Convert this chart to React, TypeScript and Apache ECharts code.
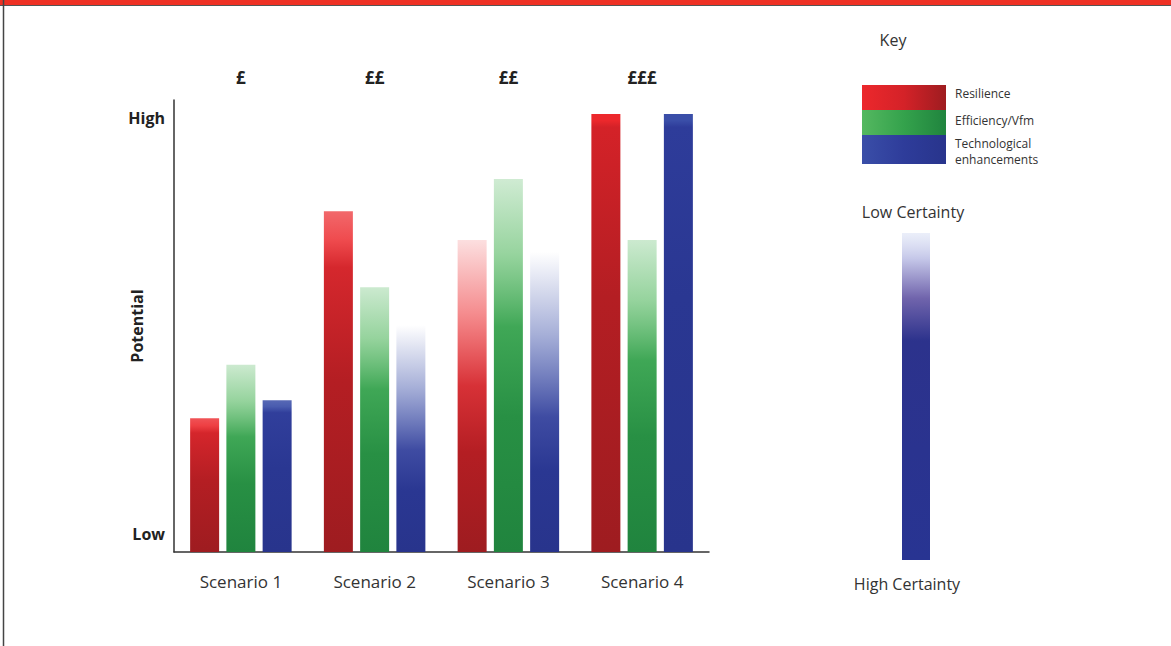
import React, { useEffect, useRef } from "react";
import * as echarts from "echarts";

const categories = ["Scenario 1", "Scenario 2", "Scenario 3", "Scenario 4"];
const costLabels = ["£", "££", "££", "£££"];
const resilience = [29.6, 75.4, 69.0, 96.9];
const efficiency = [41.4, 58.6, 82.5, 69.0];
const technological = [33.6, 50.2, 66.4, 96.9];
// certainty of each estimate (1 = high certainty, 0 = low certainty)
const resilienceCertainty = [0.8, 0.7, 0.15, 1.0];
const efficiencyCertainty = [0.3, 0.3, 0.28, 0.3];
const technologicalCertainty = [0.85, 0.0, 0.0, 1.0];
const yTicks: Record<number, string> = { 4: "Low", 96: "High" };
const keyItems = ["Resilience", "Efficiency/Vfm", "Technological", "enhancements"];

const FONT = "'Open Sans', 'Noto Sans', sans-serif";

type Pal = { light: number[]; mid: number[]; dark: number[] };
const palettes: Pal[] = [
  { light: [236, 40, 44], mid: [212, 34, 40], dark: [158, 28, 32] },
  { light: [84, 184, 96], mid: [52, 162, 76], dark: [32, 132, 62] },
  { light: [58, 78, 168], mid: [46, 60, 154], dark: [40, 52, 140] },
];

const rgba = (c: number[], a: number) => `rgba(${c[0]},${c[1]},${c[2]},${a})`;
const mix = (a: number[], b: number[], t: number) => a.map((v, i) => Math.round(v + (b[i] - v) * t));

function barColor(p: Pal, c: number) {
  const ramp = Math.max(0.03, (1 - c) * 0.55);
  return new echarts.graphic.LinearGradient(0, 0, 0, 1, [
    { offset: 0, color: rgba(p.light, c) },
    { offset: ramp * 0.5, color: rgba(p.light, c + (1 - c) * 0.45) },
    { offset: ramp, color: rgba(p.mid, 0.92 + 0.08 * c) },
    { offset: ramp + (1 - ramp) * 0.4, color: rgba(mix(p.mid, p.dark, 0.6), 1) },
    { offset: 1, color: rgba(p.dark, 1) },
  ]);
}

function makeSeries(name: string, values: number[], cert: number[], p: Pal) {
  return {
    name,
    type: "bar",
    barWidth: 29,
    barGap: "25%",
    data: values.map((v, i) => ({
      value: v,
      itemStyle: { color: barColor(p, cert[i]) },
    })),
  };
}

export default function App() {
  const ref = useRef<HTMLDivElement>(null);
  useEffect(() => {
    document.body.style.margin = "0";
    const chart = echarts.init(ref.current!, null, { renderer: "svg" });
    const swatchY = [85, 110, 135];
    const swatchH = [25, 25, 29];
    const swatchGrad = (p: Pal) =>
      new echarts.graphic.LinearGradient(0, 0, 1, 0, [
        { offset: 0, color: rgba(p.light, 1) },
        { offset: 0.5, color: rgba(p.mid, 1) },
        { offset: 1, color: rgba(p.dark, 1) },
      ]);
    const keyText = (text: string, y: number) => ({
      type: "text",
      style: { text, x: 955, y, fill: "#333", fontSize: 12, fontFamily: FONT, textVerticalAlign: "middle" },
    });
    chart.setOption({
      animation: false,
      backgroundColor: "#ffffff",
      textStyle: { fontFamily: FONT },
      grid: { left: 174, right: 462, top: 100, bottom: 94 },
      xAxis: [
        {
          type: "category",
          data: categories,
          axisLine: { lineStyle: { color: "#333", width: 1.5 } },
          axisTick: { show: false },
          axisLabel: { color: "#333", fontSize: 17, margin: 21, fontFamily: FONT },
        },
        {
          type: "category",
          position: "top",
          data: costLabels,
          axisLine: { show: false },
          axisTick: { show: false },
          axisLabel: { color: "#222", fontSize: 17, fontWeight: "bold", margin: 14, fontFamily: FONT },
        },
      ],
      yAxis: {
        type: "value",
        min: 0,
        max: 100,
        interval: 4,
        name: "Potential",
        nameLocation: "middle",
        nameRotate: 90,
        nameGap: 29,
        nameMoveOverlap: false,
        nameTextStyle: { color: "#222", fontSize: 16, fontWeight: "bold", fontFamily: FONT },
        axisLine: { show: true, lineStyle: { color: "#333", width: 1.5 } },
        axisTick: { show: false },
        splitLine: { show: false },
        axisLabel: {
          color: "#222",
          fontSize: 16,
          fontWeight: "bold",
          margin: 9,
          fontFamily: FONT,
          formatter: (v: number) => yTicks[v] ?? "",
        },
      },
      series: [
        makeSeries("Resilience", resilience, resilienceCertainty, palettes[0]),
        makeSeries("Efficiency/Vfm", efficiency, efficiencyCertainty, palettes[1]),
        makeSeries("Technological enhancements", technological, technologicalCertainty, palettes[2]),
      ],
      graphic: [
        { type: "rect", shape: { x: 0, y: 0, width: 1171, height: 5 }, style: { fill: "#ee3124" } },
        { type: "line", shape: { x1: 0, y1: 5.5, x2: 1171, y2: 5.5 }, style: { stroke: "#555", lineWidth: 1 } },
        { type: "line", shape: { x1: 3.5, y1: 0, x2: 3.5, y2: 646 }, style: { stroke: "#444", lineWidth: 1.5 } },
        {
          type: "text",
          style: { text: "Key", x: 893, y: 40, fill: "#333", fontSize: 16, fontFamily: FONT, textAlign: "center", textVerticalAlign: "middle" },
        },
        ...palettes.map((p, i) => ({
          type: "rect",
          shape: { x: 862, y: swatchY[i], width: 84, height: swatchH[i] },
          style: { fill: swatchGrad(p) },
        })),
        keyText(keyItems[0], 93),
        keyText(keyItems[1], 120),
        keyText(keyItems[2], 143),
        keyText(keyItems[3], 159),
        {
          type: "text",
          style: { text: "Low Certainty", x: 913, y: 212, fill: "#333", fontSize: 16, fontFamily: FONT, textAlign: "center", textVerticalAlign: "middle" },
        },
        {
          type: "rect",
          shape: { x: 902, y: 233, width: 28, height: 327 },
          style: {
            fill: new echarts.graphic.LinearGradient(0, 0, 0, 1, [
              { offset: 0, color: "rgba(215,222,244,0.5)" },
              { offset: 0.08, color: "rgba(196,198,232,1)" },
              { offset: 0.2, color: "rgba(112,100,172,1)" },
              { offset: 0.33, color: "rgba(44,50,140,1)" },
              { offset: 1, color: "rgba(40,52,146,1)" },
            ]),
          },
        },
        {
          type: "text",
          style: { text: "High Certainty", x: 907, y: 584, fill: "#333", fontSize: 16, fontFamily: FONT, textAlign: "center", textVerticalAlign: "middle" },
        },
      ],
    });
    return () => chart.dispose();
  }, []);
  return <div ref={ref} style={{ width: 1171, height: 646 }} />;
}
